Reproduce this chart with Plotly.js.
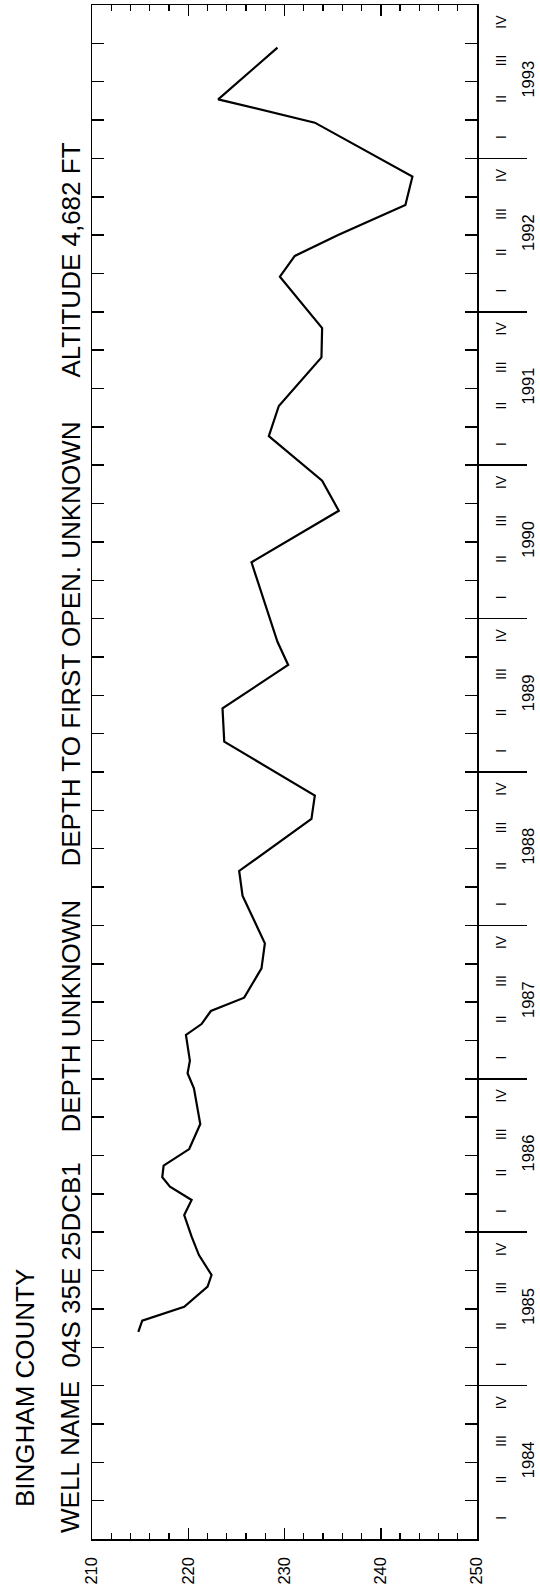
<!DOCTYPE html>
<html><head><meta charset="utf-8">
<script src="https://cdn.plot.ly/plotly-3.0.1.min.js"></script>
<style>html,body{margin:0;padding:0;background:#fff}</style>
</head><body><div id="chart" style="width:540px;height:1593px"></div>
<script>
// decimal year of each measurement
const dates = [1985.351, 1985.423, 1985.514, 1985.645, 1985.721, 1985.851, 1985.971, 1986.112, 1986.210, 1986.297,
  1986.358, 1986.434, 1986.542, 1986.705, 1986.938, 1987.036, 1987.118, 1987.286, 1987.357, 1987.442,
  1987.529, 1987.720, 1987.883, 1988.194, 1988.355, 1988.694, 1988.846, 1989.198, 1989.415, 1989.698,
  1989.849, 1990.367, 1990.703, 1990.899, 1991.190, 1991.386, 1991.703, 1991.894, 1992.229, 1992.364,
  1992.500, 1992.696, 1992.881, 1993.233, 1993.385, 1993.722];
// depth to water, feet
const depth = [214.81, 215.22, 219.58, 222.01, 222.42, 221.11, 220.35, 219.58, 220.35, 218.10,
  217.30, 217.44, 220.10, 221.25, 220.59, 219.93, 220.17, 219.76, 221.38, 222.35,
  225.81, 227.61, 227.96, 225.64, 225.29, 232.80, 233.15, 223.74, 223.56, 230.38,
  229.27, 226.57, 235.64, 233.91, 228.37, 229.41, 233.84, 233.91, 229.52, 231.07,
  235.57, 242.56, 243.29, 233.15, 223.11, 229.27];
const years = [1984, 1985, 1986, 1987, 1988, 1989, 1990, 1991, 1992, 1993];
const quarterNames = ['I', 'II', 'III', 'IV'];
const valueTicks = [210, 220, 230, 240, 250];
const titleLine1 = 'BINGHAM COUNTY';
const titleParts = ['WELL NAME', '04S 35E 25DCB1', 'DEPTH UNKNOWN', 'DEPTH TO FIRST OPEN. UNKNOWN', 'ALTITUDE 4,682 FT'];

const W = 540, H = 1593;
const L = 92, R = 477, T = 5, B = 1539;
const px2x = p => (p - L) / (R - L);
const py2y = p => (B - p) / (B - T);

const quarterVals = [], quarterText = [];
years.forEach(y => quarterNames.forEach((q, i) => { quarterVals.push(y + 0.125 + i * 0.25); quarterText.push(q); }));
const yearMid = years.map(y => y + 0.5);
const yearBounds = years.slice(1);
const yRange = [years[0], years[years.length - 1] + 1];

const font = 'Liberation Sans, Arial, Helvetica, sans-serif';

const traces = [
  {x: depth, y: dates, type: 'scatter', mode: 'lines', line: {color: '#000', width: 2.2}, showlegend: false, hoverinfo: 'skip'},
  {x: [], y: [], yaxis: 'y2', type: 'scatter', showlegend: false},
  {x: [], y: [], yaxis: 'y3', type: 'scatter', showlegend: false},
  {x: [], y: [], yaxis: 'y4', type: 'scatter', showlegend: false}
];

const titleStarts = [1535, 1370, 1135, 869, 380];
const annotations = [
  {text: titleLine1, xref: 'paper', yref: 'paper', x: px2x(25), y: py2y(1509), xanchor: 'center', yanchor: 'bottom',
   textangle: -90, showarrow: false, font: {family: font, size: 26, color: '#000'}}
];
titleParts.forEach((t, i) => annotations.push({
  text: t, xref: 'paper', yref: 'paper', x: px2x(70), y: py2y(titleStarts[i]), xanchor: 'center', yanchor: 'bottom',
  textangle: -90, showarrow: false, font: {family: font, size: 26, color: '#000'}
}));

const layout = {
  width: W, height: H,
  margin: {l: L, r: W - R, t: T, b: H - B, pad: 0},
  paper_bgcolor: '#fff', plot_bgcolor: '#fff',
  showlegend: false,
  font: {family: font, color: '#000'},
  xaxis: {
    range: [valueTicks[0], valueTicks[valueTicks.length - 1]], tickmode: 'array', tickvals: valueTicks,
    ticks: 'inside', ticklen: 11, tickwidth: 1.5, tickcolor: '#000',
    minor: {dtick: 2, tick0: 210, ticks: 'inside', ticklen: 6, tickwidth: 1.2, tickcolor: '#000', showgrid: false},
    tickangle: -90, tickfont: {family: font, size: 16.5, color: '#000'}, ticklabelstandoff: 10,
    showline: true, linewidth: 1.5, linecolor: '#000', mirror: 'ticks', showgrid: false, zeroline: false
  },
  yaxis: {
    range: yRange, tickmode: 'linear', tick0: years[0], dtick: 0.25,
    ticks: 'inside', ticklen: 12, tickwidth: 1.5, tickcolor: '#000', showticklabels: false,
    showline: true, linewidth: 1.5, linecolor: '#000', mirror: 'ticks', showgrid: false, zeroline: false
  },
  yaxis2: {
    overlaying: 'y', side: 'right', range: yRange, tickmode: 'array', tickvals: yearBounds,
    ticks: 'outside', ticklen: 49, tickwidth: 1.5, tickcolor: '#000', showticklabels: false,
    showline: false, showgrid: false, zeroline: false
  },
  yaxis3: {
    overlaying: 'y', side: 'right', range: yRange, tickmode: 'array', tickvals: quarterVals, ticktext: quarterText,
    ticks: '', tickangle: -90, tickfont: {family: font, size: 14, color: '#000'}, ticklabelstandoff: 14,
    showline: false, showgrid: false, zeroline: false
  },
  yaxis4: {
    overlaying: 'y', side: 'right', range: yRange, tickmode: 'array', tickvals: yearMid, ticktext: years.map(String),
    ticks: '', tickangle: -90, tickfont: {family: font, size: 16.5, color: '#000'}, ticklabelstandoff: 39,
    showline: false, showgrid: false, zeroline: false
  },
  annotations: annotations
};

Plotly.newPlot('chart', traces, layout, {displayModeBar: false, staticPlot: true});
</script>
</body></html>
